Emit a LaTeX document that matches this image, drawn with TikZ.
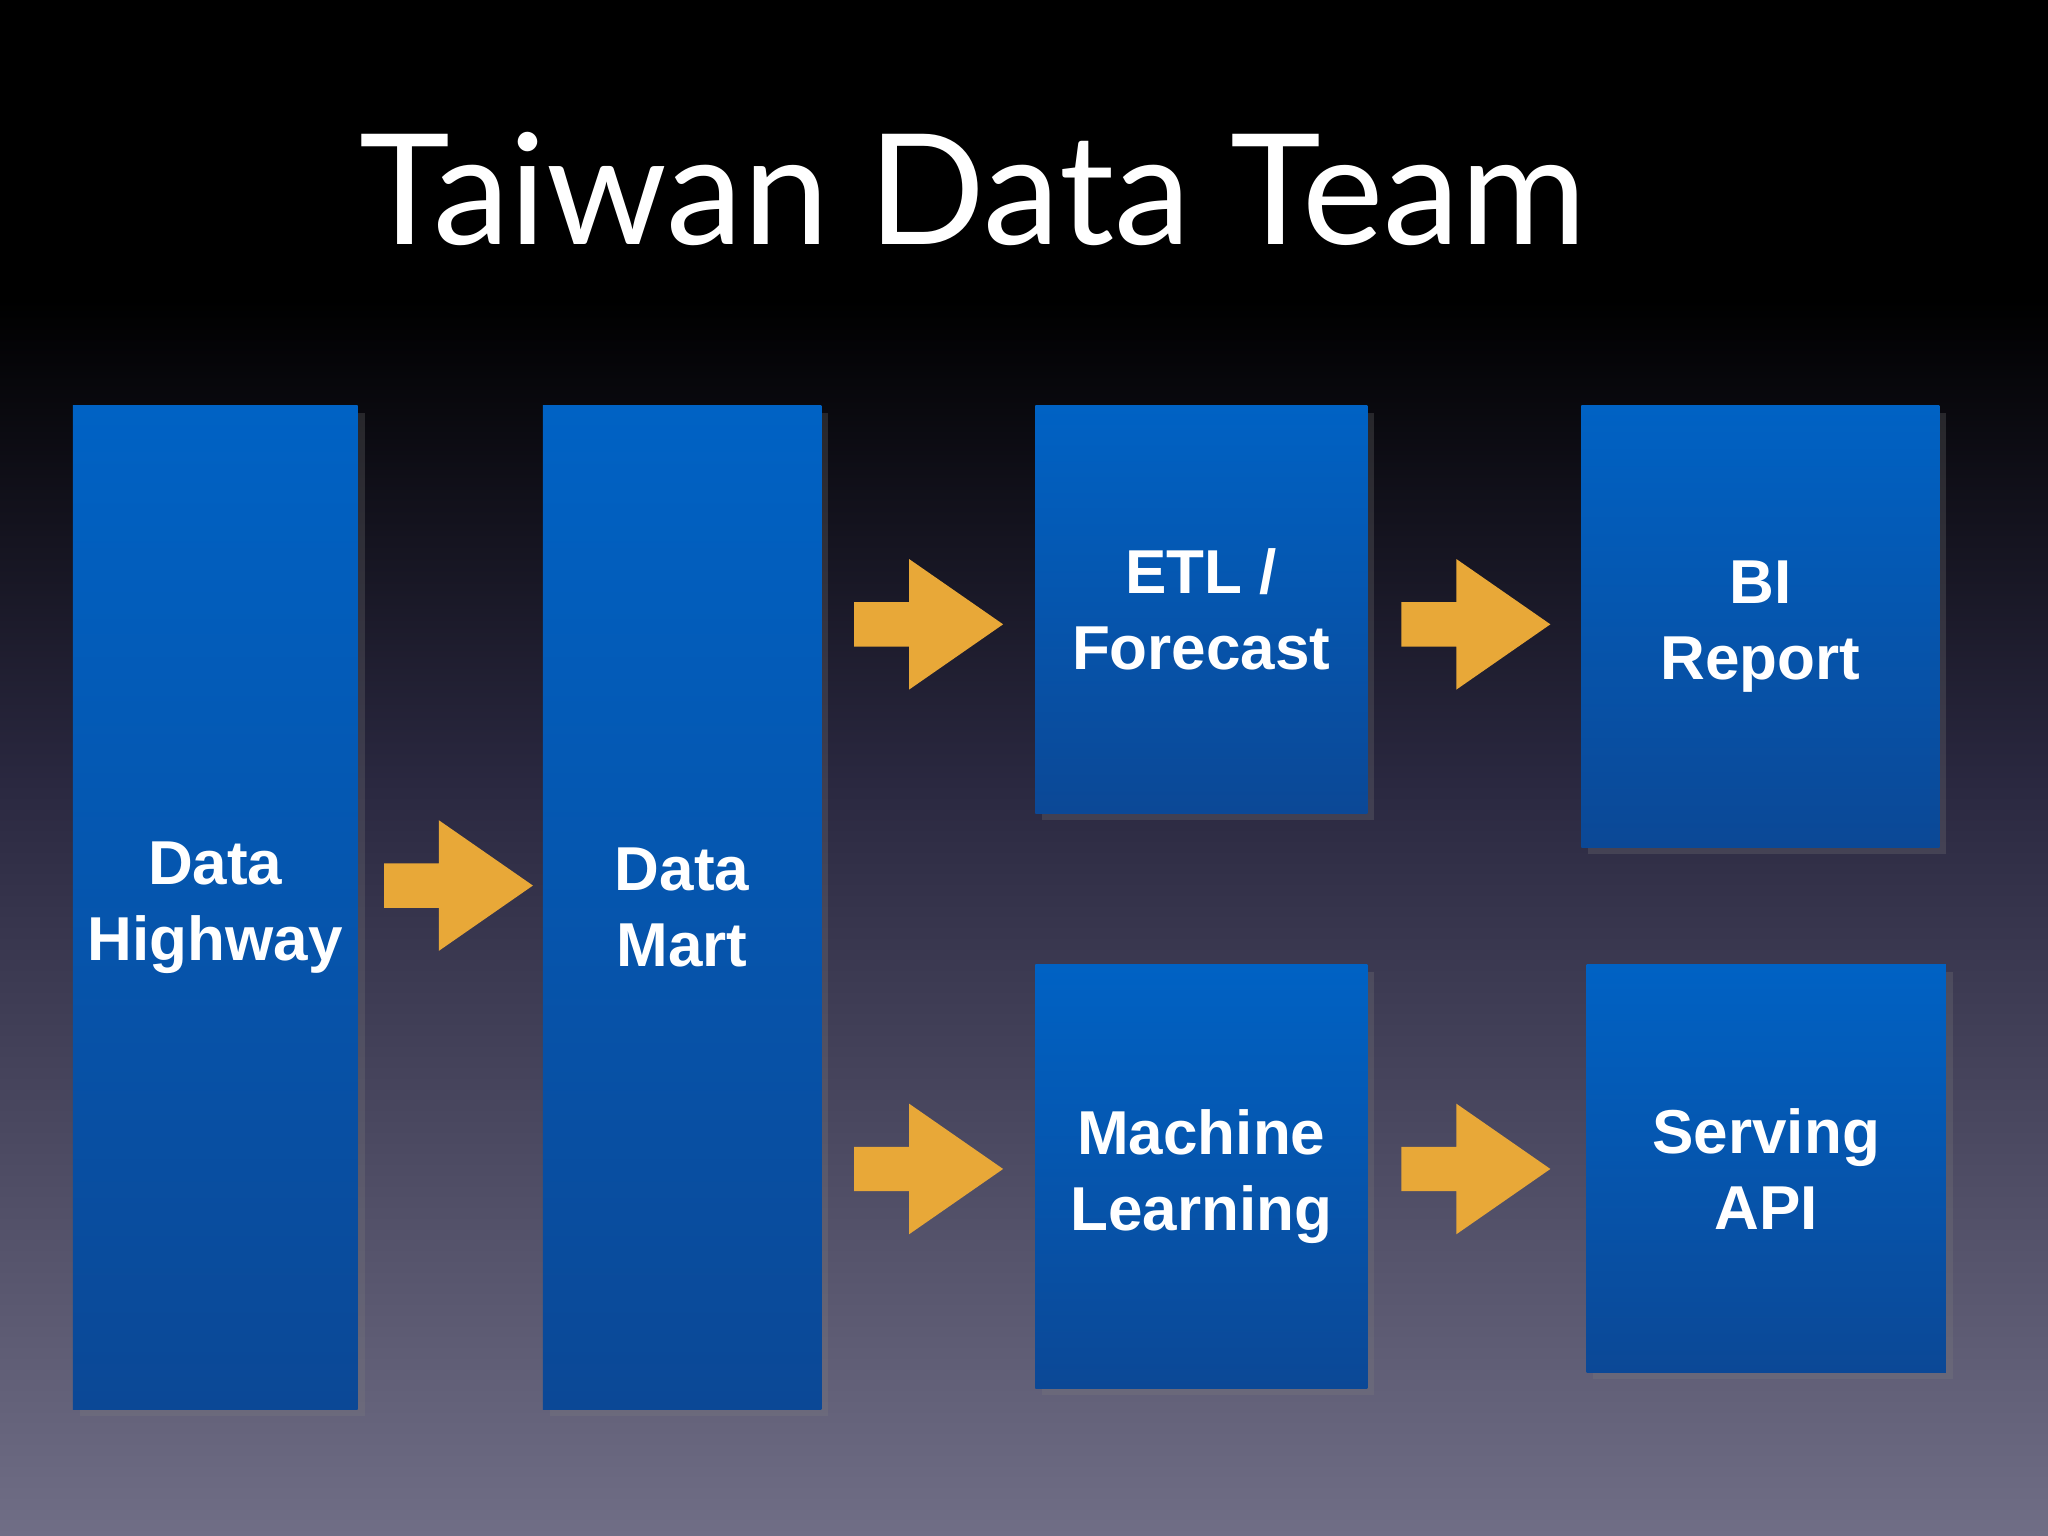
\documentclass[tikz,border=0pt]{standalone}
\usepackage{fontspec}
\setmainfont{Liberation Sans}
\newfontfamily\titlefont{Lato}
\usetikzlibrary{shadows}
\definecolor{boxtop}{HTML}{0062C4}
\definecolor{boxbot}{HTML}{0B4896}
\definecolor{arr}{HTML}{E8A838}
\definecolor{bgbot}{HTML}{706E86}
\definecolor{bgmid}{HTML}{2A2840}
\begin{document}
\begin{tikzpicture}[x=0.01cm,y=-0.01cm,
  box/.style={draw=none,top color=boxtop,bottom color=boxbot,minimum width=#1,
    drop shadow={shadow xshift=1.5pt,shadow yshift=-1.5pt,opacity=0.25},
    text=white,font=\fontsize{13.5}{16.5}\selectfont\bfseries,align=center,inner sep=0pt,anchor=north west},
  farrow/.pic={\fill[arr] (0,-17)--(42,-17)--(42,-50)--(114,0)--(42,50)--(42,17)--(0,17)--cycle;}]
\useasboundingbox (0,0) rectangle (1568,1176);
\fill[black] (0,0) rectangle (1568,230);
\shade[top color=black,bottom color=bgmid] (0,229) rectangle (1568,600);
\shade[top color=bgmid,bottom color=bgbot] (0,599) rectangle (1568,1176);
\node[text=white,font=\titlefont\fontsize{33.5}{38}\selectfont] (title) at (745,145) {Taiwan Data Team};
\node[box=2.18cm,minimum height=7.68cm] (dh) at (55,310) {Data\\Highway};
\node[box=2.13cm,minimum height=7.68cm] (dm) at (415,310) {Data\\Mart};
\node[box=2.54cm,minimum height=3.12cm] (etl) at (792,310) {ETL /\\Forecast};
\node[box=2.74cm,minimum height=3.38cm] (bi) at (1210,310) {BI\\Report};
\node[box=2.54cm,minimum height=3.24cm] (ml) at (792,738) {Machine\\Learning};
\node[box=2.75cm,minimum height=3.12cm] (sv) at (1214,738) {Serving\\API};
\pic at (294,678) {farrow};
\pic at (654,478) {farrow};
\pic at (1073,478) {farrow};
\pic at (654,895) {farrow};
\pic at (1073,895) {farrow};
\end{tikzpicture}
\end{document}
